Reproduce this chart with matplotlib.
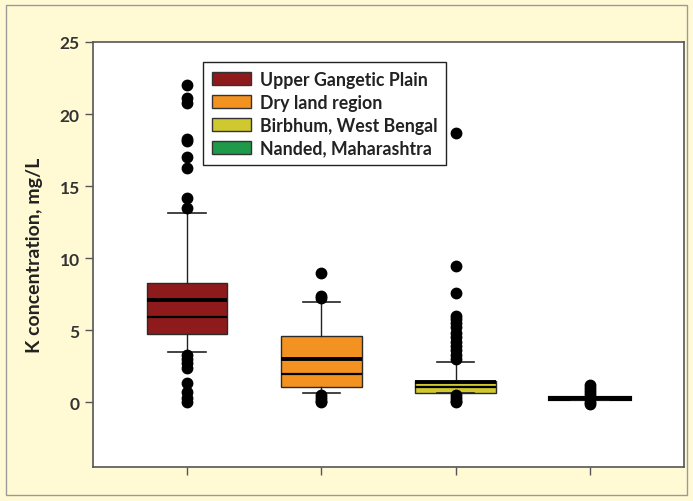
import matplotlib.pyplot as plt
from matplotlib.patches import Patch, Rectangle

# regions and colours
regions = ["Upper Gangetic Plain", "Dry land region",
           "Birbhum, West Bengal", "Nanded, Maharashtra"]
colors = ["#8e1a1c", "#f39221", "#cfc92f", "#1f9a4a"]

# box statistics (mg/L)
q1 = [4.72, 1.04, 0.65, 0.20]
med = [7.08, 3.00, 1.42, 0.26]
q3 = [8.26, 4.60, 1.48, 0.30]
mean = [5.90, 1.95, 1.05, 0.24]
whislo = [3.47, 0.63, 0.62, 0.15]
whishi = [13.1, 6.95, 2.80, 0.35]
fliers = [
    [13.5, 14.2, 16.25, 17.0, 18.1, 18.3, 20.8, 21.1, 22.0,
     3.3, 3.0, 2.7, 2.4, 1.3, 0.7, 0.3, 0.0],
    [9.0, 7.4, 7.2, 0.5, 0.3, 0.1, 0.0],
    [18.7, 9.45, 7.57, 6.0, 5.8, 5.5, 5.2, 4.8, 4.5, 4.2, 3.9, 3.6, 3.3, 3.0,
     0.5, 0.3, 0.1, 0.0],
    [1.2, 1.0, 0.8, 0.6, 0.0, -0.1],
]

bg = "#fffad4"
plt.rcParams['font.family'] = ['Lato', 'DejaVu Sans']

fig = plt.figure(figsize=(6.93, 5.02), dpi=100, facecolor=bg)
fig.patches.append(Rectangle((6 / 693, 6 / 502), 681 / 693, 490 / 502,
                             transform=fig.transFigure, fill=False,
                             edgecolor="#9a9a9a", linewidth=1))
ax = fig.add_axes([93 / 693, 34 / 502, 591 / 693, 425 / 502])

stats = []
for i in range(len(regions)):
    stats.append(dict(q1=q1[i], med=med[i], q3=q3[i], mean=mean[i],
                      whislo=whislo[i], whishi=whishi[i], fliers=fliers[i]))

bp = ax.bxp(stats, positions=[1, 2, 3, 4], widths=0.6, patch_artist=True,
            showmeans=True, meanline=True,
            boxprops=dict(edgecolor="#2a2a2a", linewidth=1),
            medianprops=dict(color="black", linewidth=2.8),
            meanprops=dict(color="black", linestyle="-", linewidth=1.6),
            whiskerprops=dict(color="#222222", linewidth=1),
            capprops=dict(color="#222222", linewidth=1.2),
            flierprops=dict(marker="o", markerfacecolor="black",
                            markeredgecolor="black", markersize=7.5))
for box, c in zip(bp["boxes"], colors):
    box.set_facecolor(c)
for cap in bp["caps"]:
    x0, x1 = cap.get_xdata()
    cx = (x0 + x1) / 2
    cap.set_xdata([cx - 0.14, cx + 0.14])

# the flat last box shows as a thick bar
bp["boxes"][3].set_linewidth(3)
bp["boxes"][3].set_edgecolor("black")

ax.set_xlim(0.3, 4.7)
ax.set_ylim(-4.5, 25)
ax.set_yticks([0, 5, 10, 15, 20, 25])
ax.set_xticks([1, 2, 3, 4])
ax.set_xticklabels([])
ax.tick_params(axis="both", direction="out", length=6, width=1,
               color="#555555", labelsize=12.5, labelcolor="#333333")
for lab in ax.get_yticklabels():
    lab.set_fontweight("bold")
for s in ax.spines.values():
    s.set_color("#555555")
    s.set_linewidth(1.2)

ax.set_ylabel("K concentration, mg/L", fontsize=14, fontweight="bold",
              color="#222222", labelpad=12)

handles = [Patch(facecolor=c, edgecolor="#333333", linewidth=1) for c in colors]
leg = ax.legend(handles, regions, loc="upper left",
                bbox_to_anchor=(0.186, 0.953), borderaxespad=0,
                fancybox=False, edgecolor="#222222", framealpha=1,
                prop=dict(size=12.8, weight="bold"), handlelength=2.2,
                handleheight=0.75, labelspacing=0.33, handletextpad=0.5,
                borderpad=0.5)
leg.get_frame().set_linewidth(1)
for t in leg.get_texts():
    t.set_color("#222222")

plt.savefig("out.png", dpi=100, facecolor=bg)
